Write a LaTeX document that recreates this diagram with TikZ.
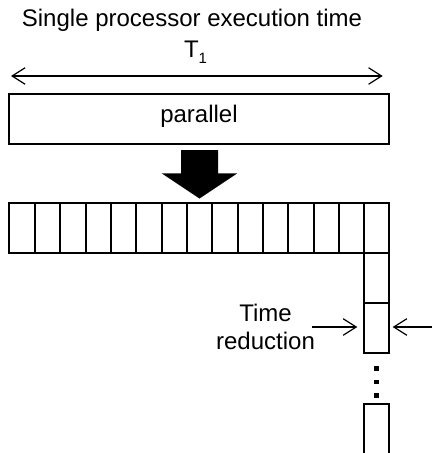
\documentclass[tikz,border=0pt]{standalone}
\usepackage{fontspec}
\setmainfont{Liberation Sans}
\usetikzlibrary{arrows.meta}
\begin{document}
\begin{tikzpicture}[x=1pt,y=-1pt,
  lbl/.style={inner sep=0pt, font=\fontsize{24}{27.6}\selectfont},
  cellbox/.style={draw, line width=1.8pt, inner sep=0pt, minimum height=50pt},
  barbs/.style={line width=1.2pt,
    arrows={Straight Barb[length=13pt,width=16.5pt]-Straight Barb[length=13pt,width=16.5pt]}},
  onebarb/.style={line width=1.2pt, -{Straight Barb[length=13pt,width=16.5pt]}},
  fatarrow/.style={fill=black, draw=none}
]
\useasboundingbox (0,0) rectangle (432,453);

% heading and the single-processor time span
\node[lbl, anchor=base] (title) at (192,26)
  {Single processor execution time};
\node[lbl, anchor=base] (tone) at (195.5,57)
  {T\raisebox{-6.5pt}{\fontsize{15}{15}\selectfont 1}};
\coordinate (spanl) at (11,76);
\coordinate (spanr) at (382.7,76);
\draw[barbs] (spanl) -- (spanr);

% the whole job as one block
\node[draw, line width=1.8pt, inner sep=0pt, minimum width=380pt,
  minimum height=50pt, text height=14.5pt, text depth=7.5pt,
  font=\fontsize{24}{27.6}\selectfont] (par) at (199,119)
  {parallel};

% splitting arrow
\fill[fatarrow] (181,150) -- (218,150) -- (218,173.3) -- (237.3,173.3)
  -- (199.5,198.5) -- (161.7,173.3) -- (181,173.3) -- cycle;

% row of parallel pieces (left/right edges of each piece)
\foreach \a/\b [count=\i] in {9/35,35/60,60/86,86/111,111/136,136/162,
    162/187,187/212,212/238,238/263,263/288,288/314,314/339,339/364,364/389}
  \node[cellbox, minimum width={(\b-\a)*1pt}] (c\i) at ({(\a+\b)/2},228) {};

% pieces stacked below the last one
\node[cellbox, minimum width=25pt] (d1) at (376.5,278) {};
\node[cellbox, minimum width=25pt] (d2) at (376.5,328) {};

% vertical ellipsis
\foreach \yy in {368.7,382.2,395.7}
  \fill (374.25,\yy-2.25) ++(0,0) rectangle ++(4.5,4.5);

% last piece, running off the bottom edge
\coordinate (dnl) at (364,453);
\coordinate (dnr) at (389,453);
\draw[line width=1.8pt] (dnl) |- (389,404) -- (dnr);

% time reduction marks
\node[lbl, anchor=base] (tred) at (265.5,321.7)
  {\begin{tabular}[t]{@{}c@{}}Time\\reduction\end{tabular}};
\coordinate (rla) at (311.7,327);
\coordinate (rlb) at (357.3,327);
\coordinate (rra) at (432,327);
\coordinate (rrb) at (392.7,327);
\draw[onebarb] (rla) -- (rlb);
\draw[onebarb] (rra) -- (rrb);
\end{tikzpicture}
\end{document}
